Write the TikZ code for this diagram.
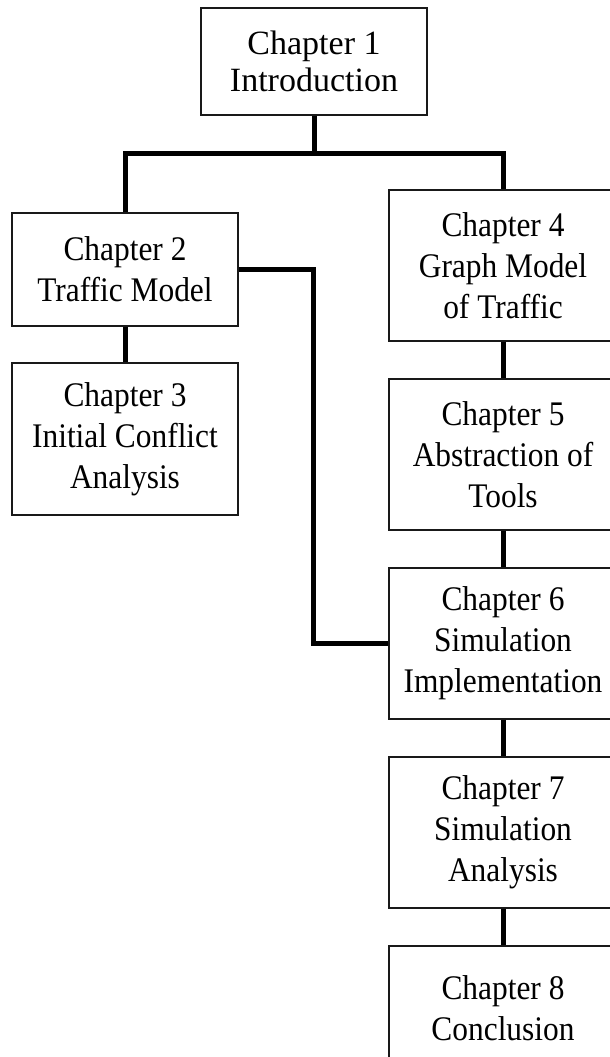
\documentclass[tikz,border=0pt]{standalone}
\usepackage{fontspec}
\setmainfont{Liberation Serif}
% narrower face used inside the chapter boxes
\newfontfamily\chapfont{Liberation Serif}[FakeStretch=0.91]
\begin{document}
\begin{tikzpicture}[x=1pt,y=-1pt,
  chap/.style={draw=black!90, line width=1.2pt, align=center, inner sep=0pt,
    font=\chapfont\fontsize{34.5}{41}\selectfont},
  topchap/.style={chap, font=\rmfamily\fontsize{34}{37}\selectfont},
  link/.style={line width=5pt, line join=miter}]
\useasboundingbox (0,0) rectangle (610,1057);
\clip (0,0) rectangle (610,1057);

% chapter boxes
\node[topchap, minimum width=226pt, minimum height=107pt] (c1) at (314,61.5) {Chapter 1\\Introduction};
\node[chap, minimum width=226pt, minimum height=113pt] (c2) at (125,269.5) {Chapter 2\\Traffic Model};
\node[chap, minimum width=226pt, minimum height=152pt] (c3) at (125,439) {Chapter 3\\Initial Conflict\\Analysis};
\node[chap, minimum width=228pt, minimum height=151pt] (c4) at (503,265.5) {Chapter 4\\Graph Model\\of Traffic};
\node[chap, minimum width=228pt, minimum height=151pt] (c5) at (503,454.5) {Chapter 5\\Abstraction of\\Tools};
\node[chap, minimum width=228pt, minimum height=151pt] (c6) at (503,643.5) {Chapter 6\\Simulation\\Implementation};
\node[chap, minimum width=228pt, minimum height=151pt] (c7) at (503,832.5) {Chapter 7\\Simulation\\Analysis};
\node[chap, minimum width=228pt, minimum height=124pt] (c8) at (503,1008) {Chapter 8\\Conclusion};

% connectors
\draw[link] (c1.south) -- ++(0,38) coordinate (fork);
\draw[link] (c2.north) |- (fork) -| (c4.north);
\draw[link] (c2) -- (c3);
\draw[link] (c2.east) -- ++(75,0) |- (c6.west);
\draw[link] (c4) -- (c5);
\draw[link] (c5) -- (c6);
\draw[link] (c6) -- (c7);
\draw[link] (c7) -- (c8);
\end{tikzpicture}
\end{document}
